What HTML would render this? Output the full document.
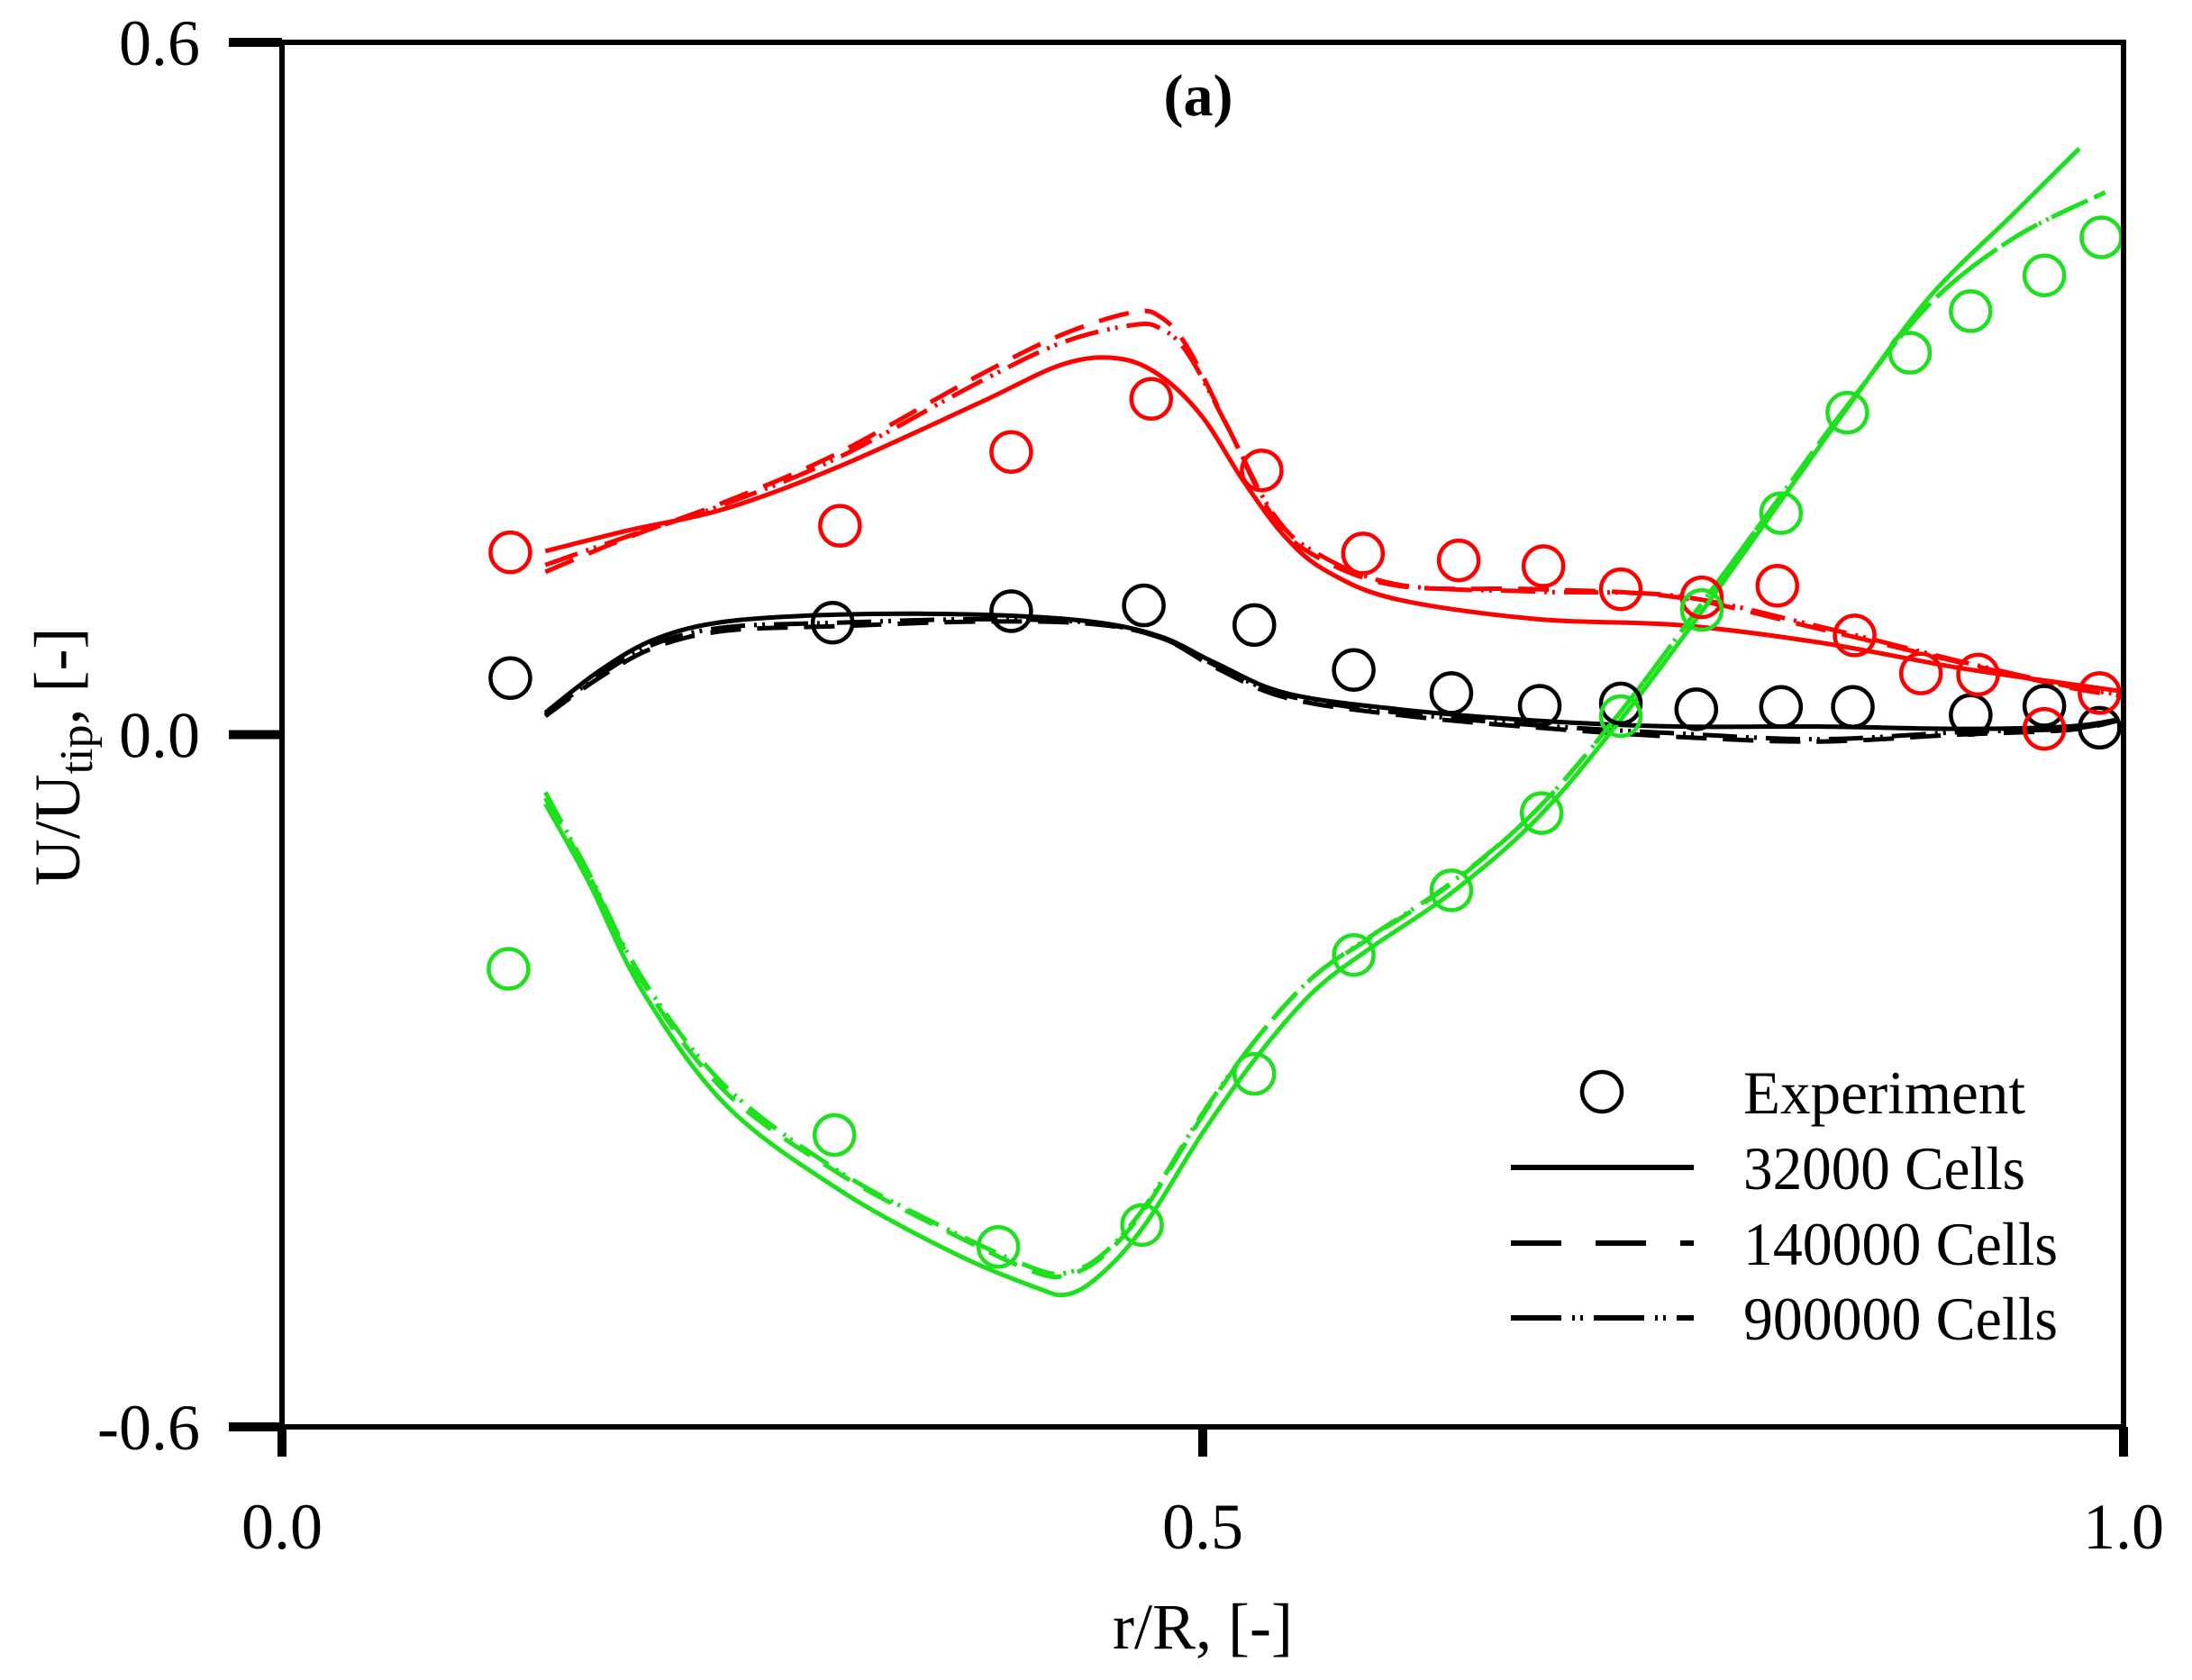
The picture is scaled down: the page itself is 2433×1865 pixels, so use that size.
<!DOCTYPE html>
<html><head><meta charset="utf-8">
<style>
html,body{margin:0;padding:0;background:#fff;}
svg{display:block;}
text{font-family:"Liberation Serif",serif;fill:#000;}
</style></head>
<body>
<svg id="chart" width="2433" height="1865" viewBox="0 0 2433 1865" xmlns="http://www.w3.org/2000/svg">
<g id="curves"></g>
<g id="axes"></g>
<g id="legend"></g>
</svg>
<script>
// ---- data ----
const expBlackX = [0.124,0.299,0.396,0.468,0.528,0.582,0.635,0.683,0.727,0.768,0.814,0.853,0.917,0.957,0.987];
const expBlackY = [0.049,0.097,0.107,0.112,0.095,0.056,0.036,0.025,0.027,0.022,0.024,0.024,0.017,0.025,0.006];
const expRedX = [0.124,0.303,0.396,0.472,0.532,0.587,0.639,0.685,0.727,0.771,0.812,0.854,0.890,0.921,0.957,0.987];
const expRedY = [0.158,0.181,0.245,0.291,0.229,0.157,0.151,0.146,0.126,0.119,0.129,0.086,0.053,0.052,0.005,0.036];
const expGreenX = [0.123,0.300,0.389,0.467,0.528,0.582,0.635,0.684,0.727,0.771,0.814,0.850,0.884,0.917,0.957,0.988];
const expGreenY = [-0.203,-0.347,-0.444,-0.425,-0.294,-0.191,-0.135,-0.068,0.016,0.108,0.192,0.279,0.331,0.367,0.398,0.431];

const redX = [0.143,0.188,0.241,0.302,0.378,0.424,0.454,0.477,0.500,0.522,0.545,0.568,0.606,0.682,0.758,0.834,0.910,0.970,0.997];
const redSolid = [0.159,0.177,0.196,0.232,0.287,0.321,0.326,0.311,0.275,0.220,0.171,0.141,0.117,0.100,0.095,0.080,0.058,0.044,0.038];
const redDashX = [0.143,0.188,0.241,0.302,0.378,0.424,0.462,0.477,0.492,0.515,0.538,0.561,0.606,0.682,0.758,0.834,0.910,0.970,0.997];
const redDash = [0.141,0.171,0.202,0.244,0.311,0.347,0.366,0.362,0.335,0.262,0.189,0.155,0.129,0.126,0.119,0.092,0.063,0.041,0.034];
const redDashDot = [0.147,0.172,0.200,0.240,0.305,0.340,0.355,0.352,0.330,0.262,0.192,0.158,0.130,0.124,0.120,0.094,0.064,0.042,0.035];

const blackX = [0.143,0.173,0.203,0.241,0.302,0.378,0.439,0.477,0.507,0.545,0.606,0.682,0.758,0.834,0.910,0.970,0.997];
const blackSolid = [0.019,0.056,0.083,0.098,0.104,0.104,0.098,0.085,0.062,0.036,0.022,0.012,0.007,0.007,0.005,0.007,0.013];
const blackDash = [0.016,0.050,0.076,0.090,0.094,0.098,0.096,0.084,0.058,0.032,0.017,0.006,-0.002,-0.006,0.000,0.004,0.012];
const blackDashDot = [0.017,0.052,0.079,0.093,0.097,0.100,0.097,0.084,0.060,0.034,0.019,0.008,0.001,-0.004,0.002,0.005,0.012];

const greenX = [0.143,0.166,0.196,0.241,0.302,0.363,0.409,0.427,0.446,0.469,0.500,0.530,0.560,0.591,0.636,0.682,0.727,0.773,0.819,0.849,0.894,0.940,0.976];
const greenSolid = [-0.060,-0.126,-0.223,-0.321,-0.394,-0.448,-0.479,-0.485,-0.466,-0.424,-0.345,-0.278,-0.223,-0.185,-0.136,-0.072,0.013,0.111,0.214,0.281,0.378,0.451,0.508];
const greenDashX = [0.143,0.166,0.196,0.241,0.302,0.363,0.409,0.427,0.446,0.469,0.500,0.530,0.560,0.591,0.636,0.682,0.727,0.773,0.819,0.849,0.894,0.940,0.990];
const greenDash = [-0.055,-0.120,-0.215,-0.310,-0.380,-0.432,-0.466,-0.468,-0.452,-0.410,-0.330,-0.262,-0.210,-0.176,-0.128,-0.064,0.020,0.118,0.218,0.283,0.372,0.430,0.470];
const greenDashDot = [-0.050,-0.118,-0.212,-0.305,-0.378,-0.430,-0.463,-0.466,-0.450,-0.408,-0.328,-0.262,-0.210,-0.175,-0.127,-0.064,0.020,0.118,0.218,0.283,0.372,0.430,0.470];

const xTicks = [0.0,0.5,1.0];
const xTickLabels = ["0.0","0.5","1.0"];
const yTicks = [-0.6,0.0,0.6];
const yTickLabels = ["-0.6","0.0","0.6"];
const legendLabels = ["Experiment","32000 Cells","140000 Cells","900000 Cells"];

// ---- axes ----
const L=313,R=2357,T=47,B=1584;
const sx = v => L + (v-0)/(1-0)*(R-L);
const sy = v => B - (v+0.6)/1.2*(B-T);
const NS="http://www.w3.org/2000/svg";
function mk(tag, parent, attrs){const e=document.createElementNS(NS,tag);for(const k in attrs)e.setAttribute(k,attrs[k]);parent.appendChild(e);return e;}

const RED="#ff0000", GREEN="#1ee01e", BLACK="#000000";
const DASH="34 18", DASHDOT="38 10 3 6 3 10";

function pathD(xs, ys){
  const p = xs.map((x,i)=>[sx(x),sy(ys[i])]);
  let d="M"+p[0][0].toFixed(1)+","+p[0][1].toFixed(1);
  for(let i=0;i<p.length-1;i++){
    const p0=p[Math.max(0,i-1)],p1=p[i],p2=p[i+1],p3=p[Math.min(p.length-1,i+2)];
    const c1=[p1[0]+(p2[0]-p0[0])/6,p1[1]+(p2[1]-p0[1])/6];
    const c2=[p2[0]-(p3[0]-p1[0])/6,p2[1]-(p3[1]-p1[1])/6];
    d+=" C"+c1[0].toFixed(1)+","+c1[1].toFixed(1)+" "+c2[0].toFixed(1)+","+c2[1].toFixed(1)+" "+p2[0].toFixed(1)+","+p2[1].toFixed(1);
  }
  return d;
}
const curves=document.getElementById('curves');
function line(xs,ys,color,dash,name){
  const e=mk('path',curves,{d:pathD(xs,ys),fill:'none',stroke:color,'stroke-width':5,'stroke-dasharray':dash||'none','stroke-linejoin':'round'});
  
  
}
line(redX,redSolid,RED,null,'red-32000-cells-line');
line(redDashX,redDash,RED,DASH,'red-140000-cells-line');
line(redDashX,redDashDot,RED,DASHDOT,'red-900000-cells-line');
line(blackX,blackSolid,BLACK,null,'black-32000-cells-line');
line(blackX,blackDash,BLACK,DASH,'black-140000-cells-line');
line(blackX,blackDashDot,BLACK,DASHDOT,'black-900000-cells-line');
line(greenX,greenSolid,GREEN,null,'green-32000-cells-line');
line(greenDashX,greenDash,GREEN,DASH,'green-140000-cells-line');
line(greenDashX,greenDashDot,GREEN,DASHDOT,'green-900000-cells-line');

function pts(xs,ys,color,name){
  xs.forEach((x,i)=>{
    const c=mk('circle',curves,{cx:sx(x),cy:sy(ys[i]),r:22,fill:'none',stroke:color,'stroke-width':4.5});
    
    
  });
}
pts(expBlackX,expBlackY,BLACK,'black-experiment-point');
pts(expRedX,expRedY,RED,'red-experiment-point');
pts(expGreenX,expGreenY,GREEN,'green-experiment-point');

const axes=document.getElementById('axes');
const frame=mk('rect',axes,{x:L,y:T,width:R-L,height:B-T,fill:'none',stroke:'#000','stroke-width':6});


yTicks.forEach((v,i)=>{
  const t=mk('line',axes,{x1:254,x2:L,y1:sy(v),y2:sy(v),stroke:'#000','stroke-width':10});
  
  
  const tx=mk('text',axes,{x:222,y:sy(v)+25,'font-size':72,'text-anchor':'end'});
  tx.textContent=yTickLabels[i];
  
  
});
xTicks.forEach((v,i)=>{
  const t=mk('line',axes,{x1:sx(v),x2:sx(v),y1:B,y2:1617,stroke:'#000','stroke-width':10});
  
  
  const tx=mk('text',axes,{x:sx(v),y:1719,'font-size':72,'text-anchor':'middle'});
  tx.textContent=xTickLabels[i];
  
  
});
</script>
<script>
(function(){
const NS="http://www.w3.org/2000/svg";
const svg=document.getElementById('chart');
function mk(tag, parent, attrs){const e=document.createElementNS(NS,tag);for(const k in attrs)e.setAttribute(k,attrs[k]);parent.appendChild(e);return e;}
const axes=document.getElementById('axes');
const xt=mk('text',axes,{x:1335,y:1830,'font-size':72,'text-anchor':'middle'});
xt.textContent='r/R, [-]';


const yt=mk('text',axes,{transform:'translate(88,840) rotate(-90)','font-size':72,'text-anchor':'middle'});
yt.innerHTML='U/U<tspan font-size="52" dy="14">tip</tspan><tspan dy="-14">, [-]</tspan>';


const ti=mk('text',axes,{x:1330,y:128,'font-size':66,'font-weight':'bold','text-anchor':'middle'});
ti.textContent='(a)';



const lg=document.getElementById('legend');
const rows=[1212,1296,1380,1463];
const c=mk('circle',lg,{cx:1778,cy:rows[0],r:22,fill:'none',stroke:'#000','stroke-width':4.5});


const dashes=[null,'none','56 38','56 12 3 6 3 12'];
for(let i=1;i<4;i++){
  const l=mk('line',lg,{x1:1677,x2:1880,y1:rows[i],y2:rows[i],stroke:'#000','stroke-width':6,'stroke-dasharray':dashes[i]});
  
  
}
const widths=[313,313,349,349];
for(let i=0;i<4;i++){
  const t=mk('text',lg,{x:1935,y:rows[i]+24,'font-size':68,textLength:widths[i],lengthAdjust:'spacingAndGlyphs'});
  t.textContent=legendLabels[i];
  
  
}
})();
</script>
</body></html>
